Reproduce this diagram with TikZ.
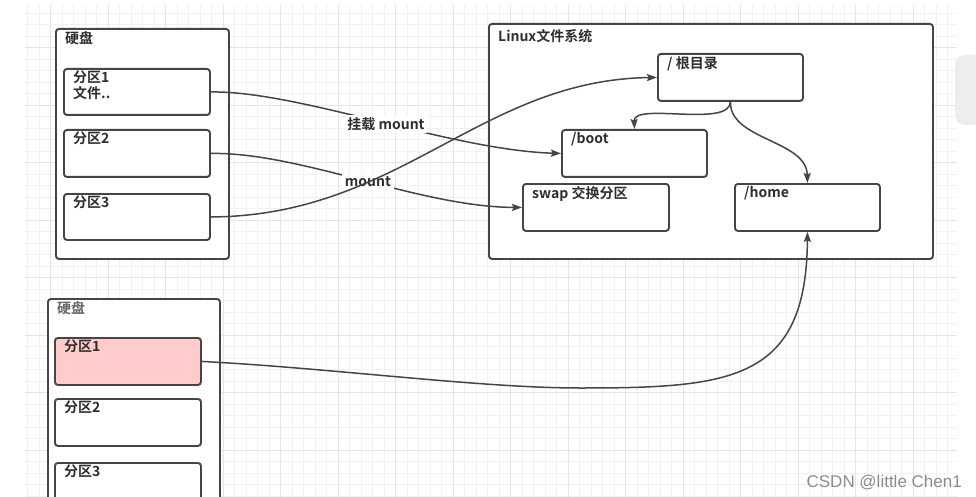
\documentclass[tikz,border=0pt]{standalone}
\usepackage{fontspec}
\setmainfont{Noto Sans CJK SC}[BoldFont={Noto Sans CJK SC Bold}]
\newfontfamily\markfont{Liberation Sans}
\usetikzlibrary{arrows.meta}
\definecolor{edge}{HTML}{454545}
\definecolor{gridminor}{HTML}{F1F1F1}
\definecolor{gridmajor}{HTML}{E4E4E4}
\definecolor{pinkfill}{HTML}{FFCCCC}
\tikzset{
  box/.style={draw=edge, line width=1.9pt, rounded corners=3pt, anchor=north west, inner sep=0pt, fill=white},
  tag/.style={anchor=north west, inner sep=0pt, xshift=10pt, yshift=-3pt, align=left,
    font=\fontsize{14}{16}\selectfont\bfseries, text=black!82},
  link/.style={draw=edge, line width=1.5pt, -{Stealth[length=10pt,width=7pt,inset=1.5pt]}},
  mlabel/.style={fill=white, inner sep=2.5pt, font=\fontsize{14}{16}\selectfont\bfseries, text=black!82}
}
\begin{document}
\begin{tikzpicture}[x=1pt,y=-1pt]
  \useasboundingbox (0,0) rectangle (976,497);
  \clip (0,0) rectangle (976,497);
  % background grid
  \foreach \gx in {27.5,39,...,957} \draw[gridminor,line width=0.8pt] (\gx,5) -- (\gx,497);
  \foreach \gy in {13,24.5,...,497} \draw[gridminor,line width=0.8pt] (25,\gy) -- (957,\gy);
  \foreach \gx in {50.5,108,...,957} \draw[gridmajor,line width=0.8pt] (\gx,5) -- (\gx,497);
  \foreach \gy in {47.5,105,...,497} \draw[gridmajor,line width=0.8pt] (25,\gy) -- (957,\gy);
  \fill[black!7,rounded corners=10pt] (955,55) rectangle (995,125);
  % first disk
  \node[box, minimum width=173pt, minimum height=230pt, label={[tag,name=disk1t]north west:硬盘}] (disk1) at (55,28) {};
  \node[box, minimum width=146pt, minimum height=46pt, label={[tag,name=p1t]north west:分区1\\文件..}] (p1) at (63,68) {};
  \node[box, minimum width=146pt, minimum height=47pt, label={[tag,name=p2t]north west:分区2}] (p2) at (63,129) {};
  \node[box, minimum width=146pt, minimum height=46pt, label={[tag,name=p3t]north west:分区3}] (p3) at (63,193) {};
  % linux file system
  \node[box, minimum width=444pt, minimum height=235pt, label={[tag,name=linuxt,yshift=-3pt]north west:Linux文件系统}] (linux) at (488,23) {};
  \node[box, minimum width=145pt, minimum height=47pt, label={[tag,name=roott]north west:/ 根目录}] (root) at (657,53) {};
  \node[box, minimum width=145pt, minimum height=47pt, label={[tag,name=boott]north west:/boot}] (boot) at (561,129) {};
  \node[box, minimum width=146pt, minimum height=47pt, label={[tag,name=swapt]north west:swap 交换分区}] (swap) at (522,183) {};
  \node[box, minimum width=145pt, minimum height=47pt, label={[tag,name=homet]north west:/home}] (home) at (734,183) {};
  % second disk
  \node[box, minimum width=172pt, minimum height=250pt, label={[tag,name=disk2t,text=black!60]north west:硬盘}] (disk2) at (47,298) {};
  \node[box, fill=pinkfill, minimum width=146pt, minimum height=47pt, label={[tag,name=dp1t]north west:分区1}] (dp1) at (54,337) {};
  \node[box, minimum width=146pt, minimum height=47pt, label={[tag,name=dp2t]north west:分区2}] (dp2) at (54,398) {};
  \node[box, minimum width=146pt, minimum height=47pt, label={[tag,name=dp3t]north west:分区3}] (dp3) at (54,462) {};
  % mount links
  \draw[link] (p1.east) .. controls (300,91) and (450,150) .. (boot.west);
  \draw[link] (p2.east) .. controls (300,152) and (420,207) .. (swap.west);
  \node[mlabel] (mnt1) at (386,124) {挂载 mount};
  \node[mlabel] (mnt2) at (368,182) {mount};
  \draw[link] (p3.east) .. controls (400,216) and (480,80) .. (root.west);
  % tree links
  \draw[link] (root.south) .. controls (729.5,128) and (633.5,102) .. (boot.north);
  \draw[link] (root.south) .. controls (729.5,140) and (806.5,140) .. (home.north);
  \coordinate (dip) at (580,388);
  \draw[link] (dp1.east) .. controls (330,368) and (480,388) .. (dip) .. controls (731,388) and (806.5,381) .. (home.south);
  \node[font=\markfont\fontsize{17}{17}\selectfont, text=black!45, anchor=base east, inner sep=0pt] (mark) at (962,487) {CSDN @little Chen1};
\end{tikzpicture}
\end{document}
